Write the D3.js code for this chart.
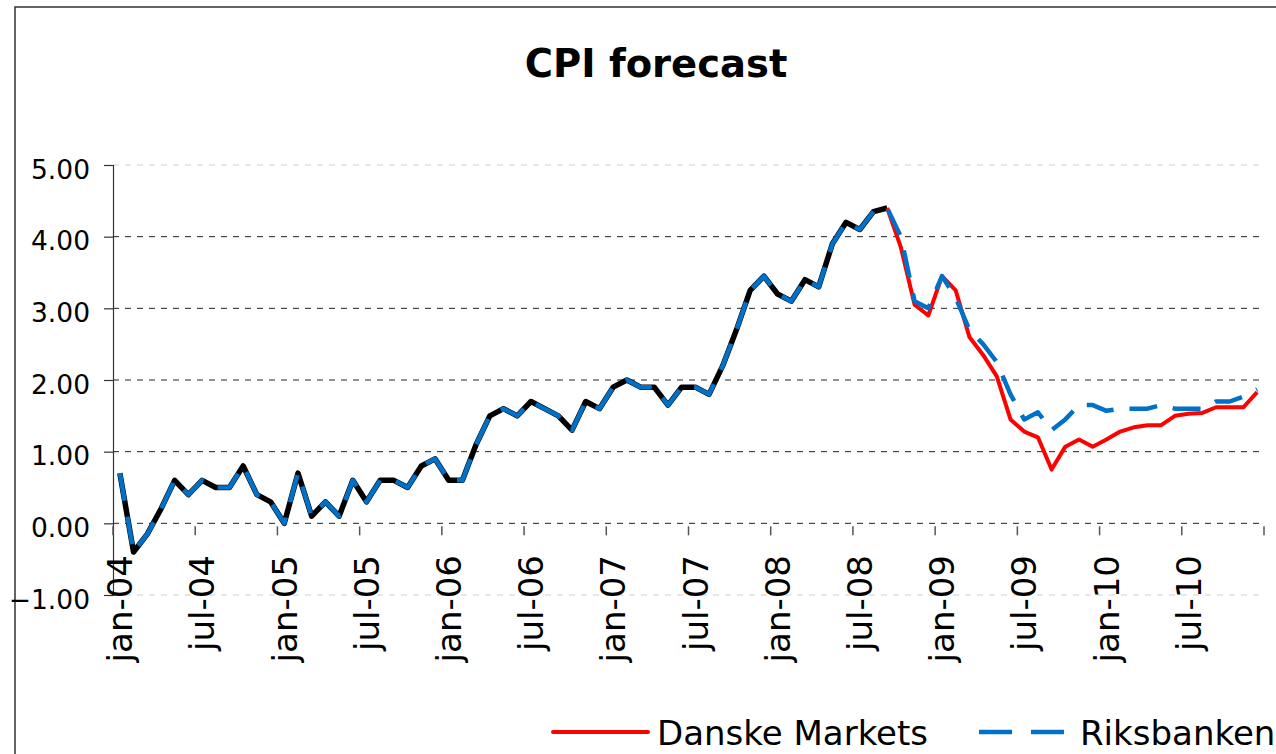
<!DOCTYPE html>
<html><head><meta charset="utf-8">
<script src="https://cdn.jsdelivr.net/npm/d3@7"></script>
<style>body{margin:0;background:#fff}svg{display:block}</style>
</head><body>
<svg id="chart" width="1276" height="754"></svg>
<script>
// ---- data ----
const months = ["jan","feb","mar","apr","maj","jun","jul","aug","sep","okt","nov","dec"];
const years = ["04","05","06","07","08","09","10"];
const categories = years.flatMap(y => months.map(m => m + "-" + y));
// actual CPI, jan-04 .. sep-08
const actual = [0.7,-0.4,-0.15,0.2,0.6,0.4,0.6,0.5,0.5,0.8,0.4,0.3,
  0.0,0.7,0.1,0.3,0.1,0.6,0.3,0.6,0.6,0.5,0.8,0.9,
  0.6,0.6,1.1,1.5,1.6,1.5,1.7,1.6,1.5,1.3,1.7,1.6,
  1.9,2.0,1.9,1.9,1.65,1.9,1.9,1.8,2.2,2.7,3.25,3.45,
  3.2,3.1,3.4,3.3,3.9,4.2,4.1,4.35,4.4];
const forecastStart = "sep-08";
// forecasts, sep-08 .. dec-10
const danskeMarkets = [4.4,3.85,3.05,2.9,3.45,3.25,2.6,2.35,2.05,1.45,1.28,1.2,
  0.75,1.07,1.17,1.07,1.17,1.28,1.34,1.37,1.37,1.5,1.53,1.54,1.62,1.62,1.62,1.83];
const riksbanken = [4.4,4.0,3.1,3.0,3.45,3.15,2.7,2.5,2.25,1.8,1.45,1.55,
  1.3,1.45,1.65,1.65,1.57,1.6,1.6,1.6,1.65,1.6,1.6,1.6,1.7,1.7,1.77,1.87];
const yTicks = [-1,0,1,2,3,4,5];
const title = "CPI forecast";
const legendNames = ["Danske Markets","Riksbanken"];

// ---- chart ----
(function () {
const svg = d3.select("#chart");
const FONT = "'DejaVu Sans', sans-serif";
const pL = 113, pR = 1264, pT = 165, pB = 595;
const x = d3.scaleBand().domain(categories).range([pL, pR]).padding(0);
const y = d3.scaleLinear().domain([-1, 5]).range([pB, pT]);
const cx = c => x(c) + x.bandwidth() / 2;

// outer frame
svg.append("rect").attr("x", 15).attr("y", 7).attr("width", 1400).attr("height", 900)
  .attr("fill", "none").attr("stroke", "#333").attr("stroke-width", 1.5);

// title
svg.append("text").attr("x", 656).attr("y", 77).attr("text-anchor", "middle")
  .attr("font-family", FONT).attr("font-weight", "bold").attr("font-size", 38.5)
  .attr("fill", "#000").text(title);

// gridlines
svg.append("g").selectAll("line").data(yTicks).join("line")
  .attr("x1", pL).attr("x2", pR)
  .attr("y1", d => y(d)).attr("y2", d => y(d))
  .attr("stroke", d => (d === 5 || d === -1) ? "#cfcfcf" : "#222")
  .attr("stroke-width", 1).attr("stroke-dasharray", "6,6");

// y axis
const yAxis = d3.axisLeft(y).tickValues(yTicks).tickSize(9).tickPadding(14)
  .tickFormat(d3.format(".2f"));
const gy = svg.append("g").attr("transform", `translate(${pL},0)`).call(yAxis);
gy.select(".domain").attr("stroke", "#333").attr("stroke-width", 1.2);
gy.selectAll(".tick line").attr("stroke", "#333").attr("stroke-width", 1.2);
gy.selectAll(".tick text").attr("font-family", FONT).attr("font-size", 26.5)
  .attr("fill", "#000").attr("dy", "0.5em");

// x axis ticks (between categories every 6 months) + labels
const tickCats = categories.filter((c, i) => i % 6 === 0);
const tickXs = tickCats.map(c => x(c)).concat([pR]);
svg.append("g").selectAll("line").data(tickXs).join("line")
  .attr("x1", d => d).attr("x2", d => d).attr("y1", y(0) + 3).attr("y2", y(0) + 12)
  .attr("stroke", "#555").attr("stroke-width", 1.5);
svg.append("g").selectAll("text").data(tickCats).join("text")
  .attr("transform", d => `translate(${cx(d)},555) rotate(-90)`)
  .attr("text-anchor", "end").attr("dy", "0.36em")
  .attr("font-family", FONT).attr("font-size", 34).attr("fill", "#000")
  .text(d => d);

// lines
const line = d3.line().x(d => cx(d.c)).y(d => y(d.v));
const startIdx = categories.indexOf(forecastStart);
const actualPts = actual.map((v, i) => ({c: categories[i], v}));
const danskePts = danskeMarkets.map((v, i) => ({c: categories[startIdx + i], v}));
const riksPts = actualPts.slice(0, startIdx)
  .concat(riksbanken.map((v, i) => ({c: categories[startIdx + i], v})));

svg.append("path").datum(actualPts).attr("d", line).attr("fill", "none")
  .attr("stroke", "#000").attr("stroke-width", 5.5).attr("stroke-linejoin", "round");
svg.append("path").datum(danskePts).attr("d", line).attr("fill", "none")
  .attr("stroke", "#ff0000").attr("stroke-width", 4).attr("stroke-linejoin", "round");
svg.append("path").datum(riksPts).attr("d", line).attr("fill", "none")
  .attr("stroke", "#0070c8").attr("stroke-width", 4.5).attr("stroke-linejoin", "round")
  .attr("stroke-dasharray", "28,16");

// legend
const lg = svg.append("g");
lg.append("line").attr("x1", 553).attr("x2", 648).attr("y1", 732).attr("y2", 732)
  .attr("stroke", "#ff0000").attr("stroke-width", 4).attr("stroke-linecap", "round");
lg.append("text").attr("x", 657).attr("y", 745).attr("font-family", FONT)
  .attr("font-size", 34).attr("fill", "#000").text(legendNames[0]);
lg.append("line").attr("x1", 979).attr("x2", 1064).attr("y1", 732).attr("y2", 732)
  .attr("stroke", "#0070c8").attr("stroke-width", 4.5).attr("stroke-dasharray", "33,19");
lg.append("text").attr("x", 1080).attr("y", 745).attr("font-family", FONT)
  .attr("font-size", 34).attr("fill", "#000").text(legendNames[1]);
})();
</script>
</body></html>
